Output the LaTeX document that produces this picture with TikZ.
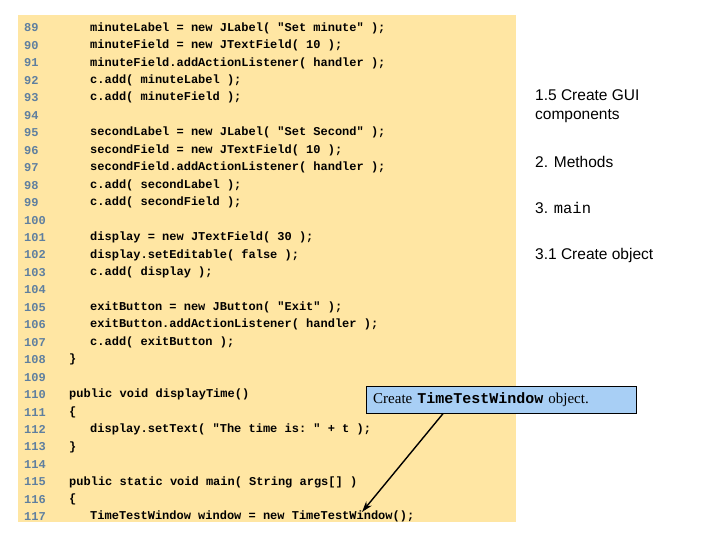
\documentclass[tikz,border=0pt]{standalone}
\usepackage{fontspec}
\usetikzlibrary{arrows.meta}
\setmainfont{Liberation Serif}
\setsansfont{Liberation Sans}
\setmonofont{Liberation Mono}
\definecolor{beige}{HTML}{FFE6A3}
\definecolor{lnum}{HTML}{5F7F9F}
\definecolor{callblue}{HTML}{A8CFF5}
\tikzset{code/.style={anchor=west,inner sep=0pt,font=\ttfamily\bfseries\fontsize{12}{12}\selectfont},
 lno/.style={code,text=lnum},
 lab/.style={anchor=west,inner sep=0pt,align=left,font=\sffamily\fontsize{15.5}{19}\selectfont}}
\begin{document}
\begin{tikzpicture}[x=1pt,y=-1pt]
\useasboundingbox (0,0) rectangle (720,540);
\fill[beige] (18,15) rectangle (516,522);
\foreach \t [count=\i from 0] in {89,...,117}{
 \node[lno] at (24,{28+17.46*\i}) {\t};}
\def\cl#1#2#3{\node[code] at (#1,{28+17.46*#2}) {#3};}
\cl{90}{0}{minuteLabel = new JLabel( "Set minute" );}
\cl{90}{1}{minuteField = new JTextField( 10 );}
\cl{90}{2}{minuteField.addActionListener( handler );}
\cl{90}{3}{c.add( minuteLabel );}
\cl{90}{4}{c.add( minuteField );}
\cl{90}{6}{secondLabel = new JLabel( "Set Second" );}
\cl{90}{7}{secondField = new JTextField( 10 );}
\cl{90}{8}{secondField.addActionListener( handler );}
\cl{90}{9}{c.add( secondLabel );}
\cl{90}{10}{c.add( secondField );}
\cl{90}{12}{display = new JTextField( 30 );}
\cl{90}{13}{display.setEditable( false );}
\cl{90}{14}{c.add( display );}
\cl{90}{16}{exitButton = new JButton( "Exit" );}
\cl{90}{17}{exitButton.addActionListener( handler );}
\cl{90}{18}{c.add( exitButton );}
\cl{69}{19}{\}}
\cl{69}{21}{public void displayTime()}
\cl{69}{22}{\{}
\cl{90}{23}{display.setText( "The time is: " + t );}
\cl{69}{24}{\}}
\cl{69}{26}{public static void main( String args[] )}
\cl{69}{27}{\{}
\cl{90}{28}{TimeTestWindow window = new TimeTestWindow();}
\coordinate (tip) at (362,512);
\node[lab] (l1) at (535,106) {1.5 Create GUI\\components};
\node[lab] (l2) at (535,162) {2. Methods};
\node[lab] (l3) at (535,208) {3. {\ttfamily main}};
\node[lab] (l4) at (535,255) {3.1 Create object};
\node[draw=black,fill=callblue,minimum width=270pt,minimum height=27pt,anchor=north west,inner xsep=7pt,inner ysep=0pt,text width=256pt,align=left,font=\fontsize{15}{16}\selectfont] (call) at (366,386)
 {Create {\ttfamily\bfseries TimeTestWindow} object.};
\draw[-{Stealth[length=11pt,width=7pt]},line width=1.4pt] ([xshift=-58pt]call.south) -- (tip);
\end{tikzpicture}
\end{document}
